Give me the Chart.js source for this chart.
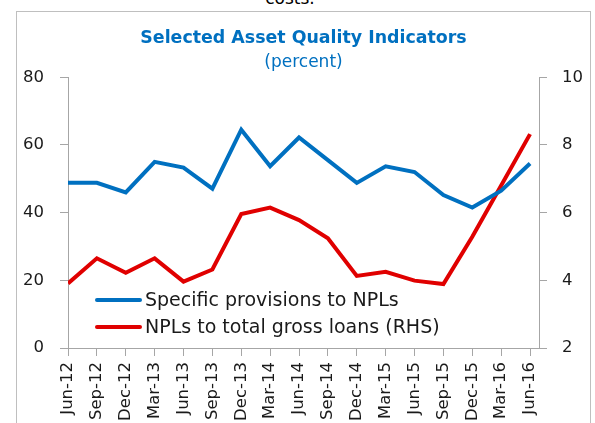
<!DOCTYPE html>
<html>
<head>
<meta charset="utf-8">
<script src="https://cdn.jsdelivr.net/npm/chart.js@4"></script>
<style>
  html, body { margin: 0; padding: 0; background: #fff; }
  #wrap { position: relative; width: 595px; height: 423px; overflow: hidden; }
  #frame { position: absolute; left: 16px; top: 11px; width: 575px; height: 440px; border: 1px solid #bfbfbf; box-sizing: border-box; }
  #cut { position: absolute; top: -12px; left: 0; width: 580px; text-align: center; font: 17px "DejaVu Sans"; color: #000; }
  canvas { position: absolute; left: 0; top: 0; }
</style>
</head>
<body>
<div id="wrap">
  <div id="frame"></div>
  <div id="cut">costs.</div>
  <canvas id="chart" width="595" height="423"></canvas>
</div>
<script>
var quarters = ['Jun-12', 'Sep-12', 'Dec-12', 'Mar-13', 'Jun-13', 'Sep-13', 'Dec-13', 'Mar-14', 'Jun-14',
                'Sep-14', 'Dec-14', 'Mar-15', 'Jun-15', 'Sep-15', 'Dec-15', 'Mar-16', 'Jun-16'];
// left axis, percent
var provisionsToNpls = [48.8, 48.8, 46.0, 55.0, 53.3, 47.1, 64.5, 53.7, 62.2, 55.5, 48.8, 53.7, 52.0, 45.2, 41.5, 46.5, 54.5];
// right axis, percent
var nplsToLoans = [3.91, 4.65, 4.22, 4.65, 3.96, 4.32, 5.96, 6.15, 5.78, 5.24, 4.13, 4.25, 3.99, 3.89, 5.29, 6.8, 8.32];

var axisGrey = '#a6a6a6';
var textColor = '#1a1a1a';
var tickFont = { family: 'DejaVu Sans', size: 16.5 };

function toPoints(values) {
    return values.map(function(v, i) { return { x: i, y: v }; });
}

// legend drawn inside the plot, bottom left
var insideLegend = {
    id: 'insideLegend',
    afterDatasetsDraw: function(chart) {
        var ctx = chart.ctx;
        var area = chart.chartArea;
        ctx.save();
        ctx.font = '19px "DejaVu Sans"';
        ctx.textBaseline = 'middle';
        chart.data.datasets.forEach(function(ds, i) {
            var x = area.left + 29;
            var y = area.bottom - 48 + i * 27;
            ctx.strokeStyle = ds.borderColor;
            ctx.lineWidth = 4;
            ctx.lineCap = 'round';
            ctx.beginPath();
            ctx.moveTo(x, y);
            ctx.lineTo(x + 43, y);
            ctx.stroke();
            ctx.fillStyle = textColor;
            ctx.fillText(ds.label, x + 48, y + 1);
        });
        ctx.restore();
    }
};

new Chart(document.getElementById('chart').getContext('2d'), {
    type: 'line',
    data: {
        datasets: [{
            label: 'Specific provisions to NPLs',
            data: toPoints(provisionsToNpls),
            borderColor: '#0070c0',
            borderWidth: 4,
            pointRadius: 0,
            tension: 0,
            yAxisID: 'y'
        }, {
            label: 'NPLs to total gross loans (RHS)',
            data: toPoints(nplsToLoans),
            borderColor: '#e00000',
            borderWidth: 4,
            pointRadius: 0,
            tension: 0,
            yAxisID: 'y1'
        }]
    },
    options: {
        responsive: false,
        animation: false,
        layout: { padding: { top: 28, left: 12, right: 0, bottom: 0 } },
        plugins: {
            legend: { display: false },
            tooltip: { enabled: false },
            title: {
                display: true,
                text: 'Selected Asset Quality Indicators',
                color: '#0070c0',
                font: { family: 'DejaVu Sans', size: 17.4, weight: 'bold', lineHeight: 1.2 },
                padding: { top: 0, bottom: 3.2 }
            },
            subtitle: {
                display: true,
                text: '(percent)',
                color: '#0070c0',
                font: { family: 'DejaVu Sans', size: 17, lineHeight: 1.2 },
                padding: { top: 0, bottom: 4.8 }
            }
        },
        scales: {
            x: {
                type: 'linear',
                min: 0,
                max: 16.31, // axis runs a little past the last quarter
                grid: { display: true, drawOnChartArea: false, drawTicks: true, tickLength: 8, color: axisGrey },
                border: { color: axisGrey },
                ticks: {
                    stepSize: 1,
                    includeBounds: false,
                    minRotation: 90,
                    maxRotation: 90,
                    autoSkip: false,
                    padding: 6,
                    color: textColor,
                    font: tickFont,
                    callback: function(value) { return quarters[value]; }
                },
                afterFit: function(s) { s.height = 75; }
            },
            y: {
                position: 'left',
                min: 0,
                max: 80,
                grid: { display: true, drawOnChartArea: false, drawTicks: true, tickLength: 8, color: axisGrey },
                border: { color: axisGrey },
                ticks: { stepSize: 20, padding: 16, color: textColor, font: tickFont },
                afterFit: function(s) { s.width = 56; }
            },
            y1: {
                position: 'right',
                min: 2,
                max: 10,
                grid: { display: true, drawOnChartArea: false, drawTicks: true, tickLength: 8, color: axisGrey },
                border: { color: axisGrey },
                ticks: { stepSize: 2, padding: 15, color: textColor, font: tickFont },
                afterFit: function(s) { s.width = 56; }
            }
        }
    },
    plugins: [insideLegend]
});
</script>
</body>
</html>
